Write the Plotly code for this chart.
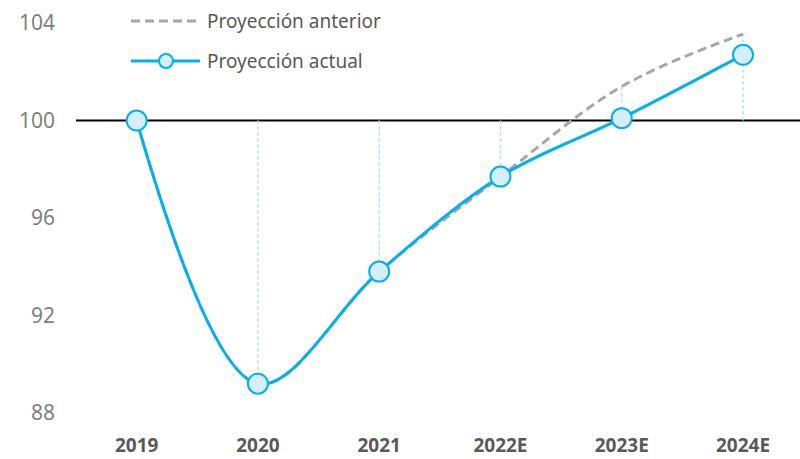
import plotly.graph_objects as go

categories = ["2019", "2020", "2021", "2022E", "2023E", "2024E"]
actual = [100.0, 89.2, 93.8, 97.7, 100.1, 102.7]
previous = [100.0, 89.2, 93.8, 97.7, 101.4, 103.55]
baseline = 100
y_ticks = [88, 92, 96, 100, 104]

BLUE = "#00b0f0"
FILL = "#d5eefa"
GREY = "#a6a6a6"
FONT = "Noto Sans"

W, H = 800, 459
ML, MR, MT, MB = 76, 0, 0, 40

fig = go.Figure()

# drop lines from baseline to previous projection
dx, dy = [], []
for c, p in zip(categories, previous):
    dx += [c, c, None]
    dy += [baseline, p, None]
fig.add_trace(go.Scatter(x=dx, y=dy, mode="lines", showlegend=False, hoverinfo="skip",
                         line=dict(color="#a9dff6", width=1.5, dash="dot")))

fig.add_trace(go.Scatter(x=categories, y=previous, mode="lines", line_shape="spline",
                         line=dict(color=GREY, width=3, dash="9px,5px"), showlegend=False))
fig.add_trace(go.Scatter(x=categories, y=actual, mode="lines", line_shape="spline",
                         line=dict(color=BLUE, width=3), showlegend=False))
fig.add_trace(go.Scatter(x=categories, y=actual, mode="markers", showlegend=False,
                         marker=dict(size=20, color=FILL, line=dict(color=BLUE, width=2))))

fig.add_shape(type="line", xref="paper", yref="y", x0=0, x1=1, y0=baseline, y1=baseline,
              line=dict(color="black", width=2), layer="below")

# manual legend
pw = W - ML - MR
ph = H - MT - MB
def px(x):
    return (x - ML) / pw
def py(y):
    return (H - MB - y) / ph

fig.add_shape(type="line", xref="paper", yref="paper", x0=px(131), x1=px(200), y0=py(21), y1=py(21),
              line=dict(color=GREY, width=3, dash="9px,5px"))
fig.add_shape(type="line", xref="paper", yref="paper", x0=px(131), x1=px(200), y0=py(61), y1=py(61),
              line=dict(color=BLUE, width=3))
fig.add_shape(type="circle", xref="paper", yref="paper", xsizemode="pixel", ysizemode="pixel",
              xanchor=px(166), yanchor=py(61), x0=-7, x1=7, y0=-7, y1=7,
              fillcolor=FILL, line=dict(color=BLUE, width=2))
fig.add_annotation(xref="paper", yref="paper", x=px(205), y=py(21), xanchor="left", yanchor="middle",
                   text="Proyección anterior", showarrow=False, font=dict(family=FONT, size=19, color="#595959"))
fig.add_annotation(xref="paper", yref="paper", x=px(205), y=py(61), xanchor="left", yanchor="middle",
                   text="Proyección actual", showarrow=False, font=dict(family=FONT, size=19, color="#595959"))

fig.update_layout(
    width=W, height=H,
    margin=dict(l=ML, r=MR, t=MT, b=MB, autoexpand=False),
    paper_bgcolor="white", plot_bgcolor="white",
    showlegend=False,
    xaxis=dict(type="category", categoryorder="array", categoryarray=categories,
               range=[-0.5, 5.47], showgrid=False, zeroline=False, showline=False, ticks="",
               automargin=False, ticklabelstandoff=13,
               tickfont=dict(family=FONT, size=19, color="#595959", weight="bold")),
    yaxis=dict(range=[87.75, 104.95], tickvals=y_ticks, showgrid=False, zeroline=False,
               showline=False, ticks="", ticklabelstandoff=20, automargin=False,
               tickfont=dict(family=FONT, size=21, color="#7f7f7f")),
)

fig.write_html("out.html", config={"displayModeBar": False},
               post_script="document.body.style.margin='0';document.body.style.overflow='hidden';")
